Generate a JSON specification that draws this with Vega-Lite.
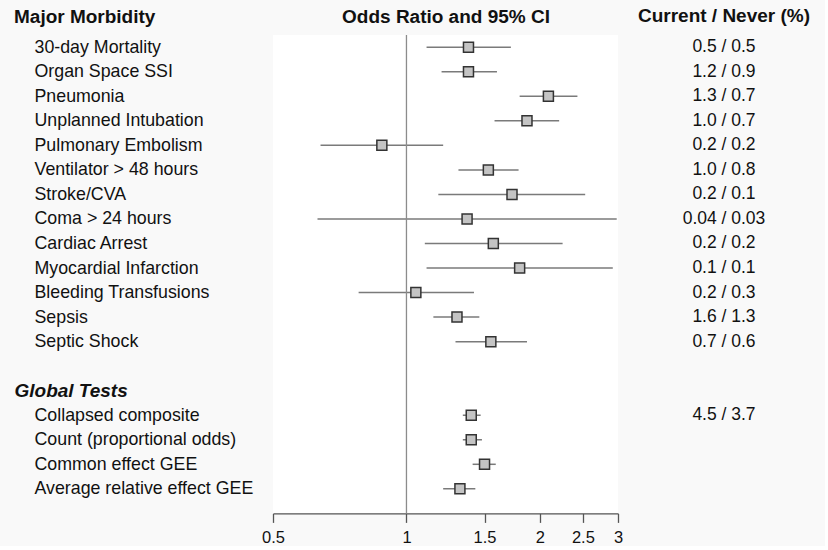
{
  "$schema": "https://vega.github.io/schema/vega-lite/v6.json",
  "background": "#f9f9f9",
  "padding": {"left": 13, "top": 7, "right": 0, "bottom": 0},
  "spacing": 0,
  "config": {"font": "Liberation Sans", "view": {"stroke": null}},
  "data": {"values": [
    {"label": "30-day Mortality", "or": 1.38, "lo": 1.11, "hi": 1.72, "pct": "0.5 / 0.5"},
    {"label": "Organ Space SSI", "or": 1.38, "lo": 1.20, "hi": 1.60, "pct": "1.2 / 0.9"},
    {"label": "Pneumonia", "or": 2.09, "lo": 1.80, "hi": 2.43, "pct": "1.3 / 0.7"},
    {"label": "Unplanned Intubation", "or": 1.87, "lo": 1.58, "hi": 2.21, "pct": "1.0 / 0.7"},
    {"label": "Pulmonary Embolism", "or": 0.88, "lo": 0.64, "hi": 1.21, "pct": "0.2 / 0.2"},
    {"label": "Ventilator > 48 hours", "or": 1.53, "lo": 1.31, "hi": 1.79, "pct": "1.0 / 0.8"},
    {"label": "Stroke/CVA", "or": 1.73, "lo": 1.18, "hi": 2.53, "pct": "0.2 / 0.1"},
    {"label": "Coma > 24 hours", "or": 1.37, "lo": 0.63, "hi": 2.98, "pct": "0.04 / 0.03"},
    {"label": "Cardiac Arrest", "or": 1.57, "lo": 1.10, "hi": 2.25, "pct": "0.2 / 0.2"},
    {"label": "Myocardial Infarction", "or": 1.80, "lo": 1.11, "hi": 2.92, "pct": "0.1 / 0.1"},
    {"label": "Bleeding Transfusions", "or": 1.05, "lo": 0.78, "hi": 1.42, "pct": "0.2 / 0.3"},
    {"label": "Sepsis", "or": 1.30, "lo": 1.15, "hi": 1.46, "pct": "1.6 / 1.3"},
    {"label": "Septic Shock", "or": 1.55, "lo": 1.29, "hi": 1.87, "pct": "0.7 / 0.6"},
    {"label": " ", "or": null, "lo": null, "hi": null, "pct": ""},
    {"label": "Global Tests", "or": null, "lo": null, "hi": null, "pct": ""},
    {"label": "Collapsed composite", "or": 1.40, "lo": 1.34, "hi": 1.47, "pct": "4.5 / 3.7"},
    {"label": "Count (proportional odds)", "or": 1.40, "lo": 1.34, "hi": 1.48, "pct": ""},
    {"label": "Common effect GEE", "or": 1.50, "lo": 1.41, "hi": 1.59, "pct": ""},
    {"label": "Average relative effect GEE", "or": 1.32, "lo": 1.21, "hi": 1.43, "pct": ""}
  ]},
  "resolve": {"scale": {"y": "shared"}},
  "hconcat": [
    {
      "width": 345,
      "height": 478.4,
      "view": {"fill": "#ffffff"},
      "resolve": {"axis": {"x": "independent"}},
      "layer": [
        {
          "mark": {"type": "rule", "color": "#7a7a7a", "strokeWidth": 1.5, "invalid": null},
          "encoding": {
            "x": {
              "field": "lo", "type": "quantitative",
              "scale": {"type": "log", "domain": [0.5, 3], "nice": false, "zero": false},
              "axis": {
                "orient": "bottom", "title": null, "values": [0.5, 1, 1.5, 2, 2.5, 3], "format": "~g",
                "grid": false, "domainColor": "#555555", "domainWidth": 1.3, "tickColor": "#555555",
                "tickWidth": 1.3, "tickSize": 9, "labelFontSize": 16.5, "labelColor": "#111111",
                "labelPadding": 7, "labelFlush": false, "labelOverlap": false
              }
            },
            "x2": {"field": "hi"},
            "y": {
              "field": "label", "type": "nominal", "sort": null,
              "scale": {"type": "point", "padding": 0.75, "align": 0.3325},
              "axis": {
                "ticks": false, "domain": false, "grid": false, "labelAlign": "left", "labelBaseline": "middle",
                "labelLimit": 320, "labelColor": "#111111",
                "labelPadding": {"condition": {"test": "datum.value === 'Global Tests'", "value": 259}, "value": 239},
                "labelFontSize": {"condition": {"test": "datum.value === 'Global Tests'", "value": 19}, "value": 17.8},
                "labelFontWeight": {"condition": {"test": "datum.value === 'Global Tests'", "value": "bold"}, "value": "normal"},
                "labelFontStyle": {"condition": {"test": "datum.value === 'Global Tests'", "value": "italic"}, "value": "normal"},
                "title": "Major Morbidity", "titleAngle": 0, "titleAlign": "left", "titleBaseline": "middle",
                "titleX": -259.5, "titleY": -18, "titleFontSize": 19, "titleFontWeight": "bold", "titleColor": "#111111"
              }
            }
          }
        },
        {
          "data": {"values": [{"ref": 1}]},
          "mark": {"type": "rule", "color": "#8c8c8c", "strokeWidth": 1.3},
          "encoding": {
            "x": {
              "field": "ref", "type": "quantitative",
              "scale": {"type": "log", "domain": [0.5, 3], "nice": false, "zero": false},
              "axis": {
                "orient": "top", "title": "Odds Ratio and 95% CI", "labels": false, "ticks": false,
                "domain": false, "grid": false, "titleFontSize": 19, "titleFontWeight": "bold",
                "titleColor": "#111111", "titleY": -18, "titleBaseline": "middle"
              }
            }
          }
        },
        {
          "mark": {"type": "point", "shape": "square", "filled": true, "size": 100, "fill": "#c4c4c4",
                   "stroke": "#333333", "strokeWidth": 1.5, "opacity": 1},
          "encoding": {
            "x": {"field": "or", "type": "quantitative", "scale": {"type": "log", "domain": [0.5, 3], "nice": false, "zero": false}, "axis": null},
            "y": {"field": "label", "type": "nominal", "sort": null}
          }
        }
      ]
    },
    {
      "width": 202,
      "height": 478.4,
      "title": {"text": "Current / Never (%)", "fontSize": 19, "fontWeight": "bold", "color": "#111111",
                "anchor": "middle", "offset": 0, "baseline": "middle"},
      "mark": {"type": "text", "fontSize": 17.5, "color": "#111111", "baseline": "middle"},
      "encoding": {
        "y": {"field": "label", "type": "nominal", "sort": null, "axis": null},
        "text": {"field": "pct"}
      }
    }
  ]
}
